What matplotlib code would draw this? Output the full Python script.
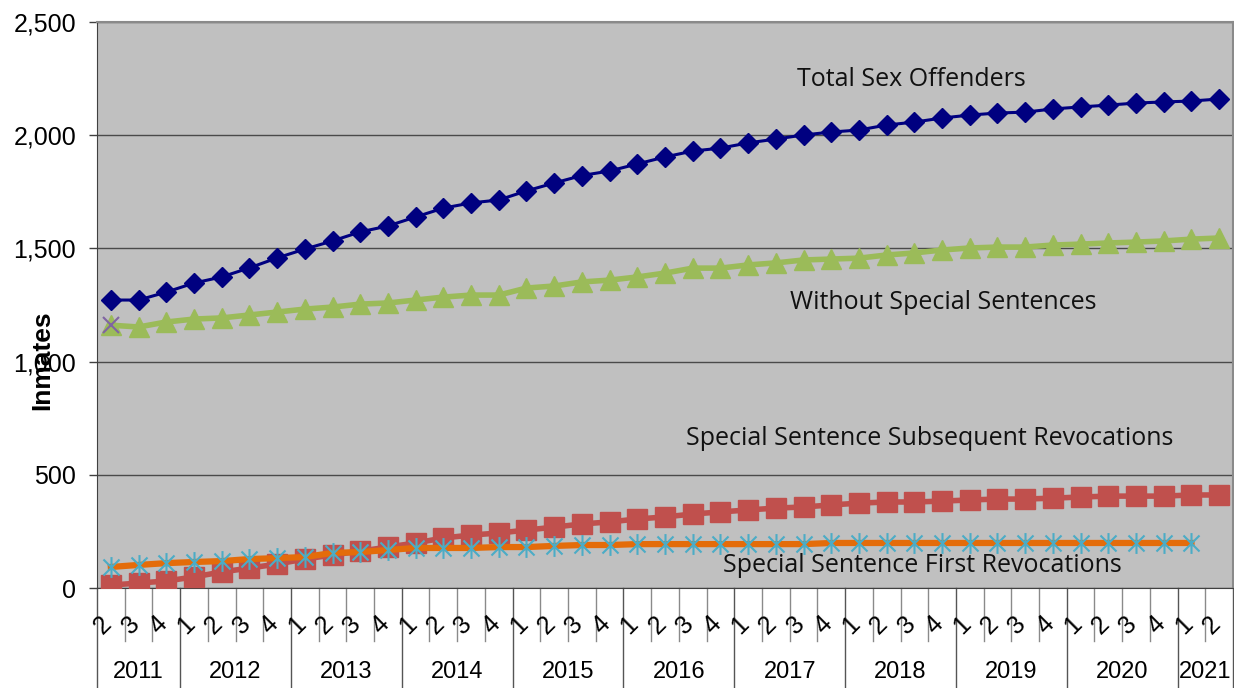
import numpy as np
import matplotlib
matplotlib.use('Agg')
import matplotlib.pyplot as plt
from matplotlib.path import Path
from matplotlib.transforms import blended_transform_factory

# quarters from 2011 Q2 to 2021 Q2
years = ['2011', '2012', '2013', '2014', '2015', '2016', '2017', '2018', '2019', '2020', '2021']
quarters_per_year = [3, 4, 4, 4, 4, 4, 4, 4, 4, 4, 2]
quarter_labels = ['2', '3', '4'] + ['1', '2', '3', '4'] * 9 + ['1', '2']

total = [1272, 1272, 1307, 1347, 1374, 1414, 1458, 1497, 1533, 1573, 1599, 1639,
         1678, 1701, 1714, 1754, 1789, 1822, 1842, 1873, 1904, 1930, 1943, 1966,
         1983, 2001, 2014, 2023, 2045, 2058, 2076, 2089, 2098, 2102, 2116, 2125,
         2133, 2142, 2147, 2151, 2160]
without_special = [1161, 1153, 1175, 1188, 1193, 1206, 1219, 1232, 1241, 1254, 1259, 1272,
                   1285, 1294, 1294, 1325, 1334, 1352, 1360, 1374, 1391, 1413, 1413, 1427,
                   1436, 1449, 1453, 1457, 1471, 1480, 1493, 1502, 1506, 1506, 1515, 1519,
                   1524, 1528, 1533, 1541, 1546]
special_start = [1161]
subsequent_rev = [13, 22, 31, 49, 71, 88, 106, 128, 146, 163, 181, 199,
                  221, 234, 243, 256, 269, 283, 292, 305, 314, 327, 336, 345,
                  353, 358, 367, 375, 380, 380, 384, 389, 393, 393, 397, 402,
                  406, 406, 406, 411, 411]
first_rev = [93, 102, 110, 115, 119, 128, 132, 137, 155, 159, 168, 177,
             177, 177, 181, 181, 186, 190, 190, 194, 194, 194, 194, 194,
             194, 194, 199, 199, 199, 199, 199, 199, 199, 199, 199, 199,
             199, 199, 199, 199]

x = np.arange(len(total))

fig = plt.figure(figsize=(12.34, 6.88), dpi=100)
ax = fig.add_axes([0.0786, 0.1453, 0.9206, 0.8227])
ax.set_facecolor('#c0c0c0')

# asterisk marker: an X with a vertical stroke
ast = Path([(-1, -1), (1, 1), (-1, 1), (1, -1), (0, -1.3), (0, 1.3)],
           [Path.MOVETO, Path.LINETO, Path.MOVETO, Path.LINETO, Path.MOVETO, Path.LINETO])

ax.plot(x, total, color='#000080', lw=2.2, marker='D', ms=10, zorder=3)
ax.plot(x, without_special, color='#9bbb59', lw=4, marker='^', ms=14, zorder=3)
ax.plot(x[:1], special_start, ls='none', marker='x', color='#8064a2', ms=12, mew=1.5, zorder=4)
ax.plot(x, subsequent_rev, color='#c0504d', lw=4, marker='s', ms=14, zorder=3)
ax.plot(x[:len(first_rev)], first_rev, color='#e46c0a', lw=4.5, marker=ast, ms=15,
        mec='#4bacc6', mfc='none', mew=1.5, zorder=4)

ax.set_xlim(-0.5, len(total) - 0.5)
ax.set_ylim(0, 2500)
ax.set_yticks([0, 500, 1000, 1500, 2000, 2500])
ax.set_yticklabels(['0', '500', '1,000', '1,500', '2,000', '2,500'],
                   family='Liberation Sans', fontsize=18)
ax.tick_params(axis='y', length=6, width=1, color='#404040', pad=9)
ax.grid(axis='y', color='#4a4a4a', lw=1)
ax.set_axisbelow(True)

for s in ['top', 'right']:
    ax.spines[s].set_color('#8a8a8a')
    ax.spines[s].set_linewidth(1.5)
ax.spines['left'].set_color('#404040')
ax.spines['bottom'].set_color('#404040')

# two-level category axis: quarters above, years below
ax.set_xticks([])
trans = blended_transform_factory(ax.transData, ax.transAxes)
bounds = np.cumsum([0] + quarters_per_year) - 0.5
for b in np.arange(-0.5, len(total), 1.0):
    if b in bounds:
        ax.plot([b, b], [0, -0.177], transform=trans, color='#555555', lw=1, clip_on=False)
    else:
        ax.plot([b, b], [0, -0.094], transform=trans, color='#8a8a8a', lw=1, clip_on=False)
for i, q in enumerate(quarter_labels):
    ax.text(i - 0.28, -0.065, q, transform=trans, rotation=45, ha='center', va='center',
            family='Liberation Sans', fontsize=18)
for j, yr in enumerate(years):
    mid = (bounds[j] + bounds[j + 1]) / 2
    ax.text(mid, -0.148, yr, transform=trans, ha='center', va='center',
            family='Liberation Sans', fontsize=17)

fig.text(0.034, 0.477, 'Inmates', rotation=90, ha='center', va='center',
         family='Liberation Sans', fontweight='bold', fontsize=19)

# series names written on the plot area
lab = dict(family='Open Sans', fontsize=18, ha='center', va='center', color='#111111')
ax.text(28.88, 2245, 'Total Sex Offenders', **lab)
ax.text(30.03, 1260, 'Without Special Sentences', **lab)
ax.text(29.56, 660, 'Special Sentence Subsequent Revocations', **lab)
ax.text(29.3, 100, 'Special Sentence First Revocations', **lab)

fig.savefig('out.png', dpi=100)
